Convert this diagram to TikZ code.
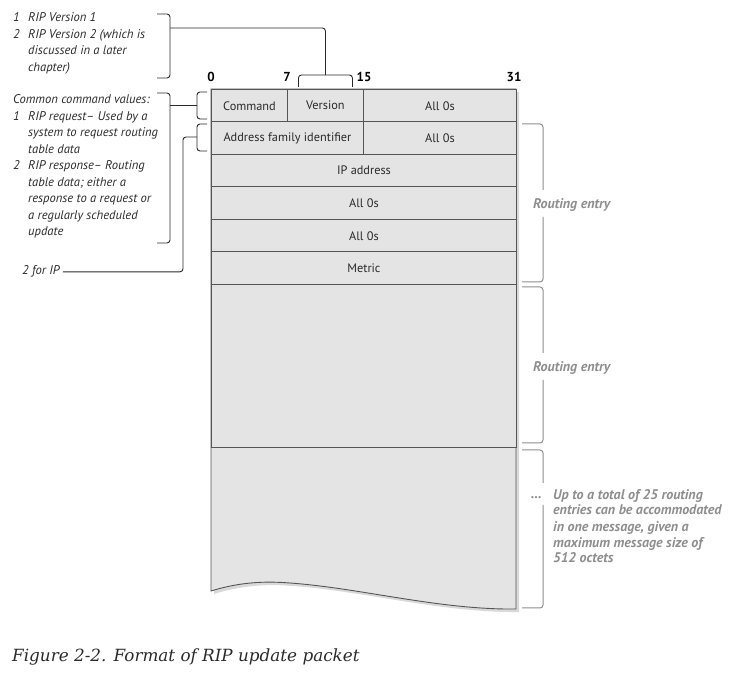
\documentclass[tikz,border=0pt]{standalone}
\usepackage{fontspec}
\setmainfont{PT Sans}
\newfontfamily\capfont{DejaVu Serif}
\usetikzlibrary{positioning,shadows}
\definecolor{boxfill}{HTML}{E4E4E4}
\definecolor{linec}{HTML}{555555}
\definecolor{inkc}{HTML}{2A2A2A}
\definecolor{notec}{HTML}{8E8E8E}
\tikzset{
  field/.style={draw=linec, fill=boxfill, line width=0.9pt, inner sep=0pt,
    minimum height=32.5pt, anchor=north west,
    font=\fontsize{12.3}{14}\selectfont, text=inkc},
  bitno/.style={font=\bfseries\fontsize{13}{15}\selectfont, text=black},
  lnote/.style={anchor=base west, align=left, inner sep=0pt,
    font=\itshape\fontsize{12.6}{16.5}\selectfont, text=inkc},
  rnote/.style={anchor=base west, align=left, inner sep=0pt,
    font=\bfseries\itshape\fontsize{14}{16}\selectfont, text=notec},
  brk/.style={draw=inkc, line width=0.9pt, rounded corners=3pt},
  rbrk/.style={draw=notec, line width=1pt, rounded corners=3pt},
}
\newcommand{\itm}[1]{\makebox[15pt][l]{#1}}
\newcommand{\cont}{\hspace*{15pt}}
\begin{document}
\begin{tikzpicture}[x=1pt,y=-1pt]
  \useasboundingbox (0,0) rectangle (732,676);
  % packet outline, torn at the bottom
  \draw[linec, line width=0.9pt, fill=boxfill,
    drop shadow={shadow xshift=3pt,shadow yshift=-3pt,opacity=.3}]
    (211,89) -- (516,89) -- (516,609)
    .. controls (440,610) and (360,588) .. (290,583)
    .. controls (265,581) and (240,582) .. (211,591) -- cycle;
  % header
  \node[field, minimum width=76pt] (cmd) at (211,89) {Command};
  \node[field, minimum width=76pt] (ver) at (287,89) {Version};
  \node[field, minimum width=153pt] (zero1) at (363,89) {All 0s};
  \node[field, minimum width=152pt] (afi) at (211,121.5) {Address family identifier};
  \node[field, minimum width=153pt] (zero2) at (363,121.5) {All 0s};
  % first routing entry
  \node[field, minimum width=305pt] (ipaddr) at (211,154) {IP address};
  \node[field, minimum width=305pt] (zero3) at (211,186.5) {All 0s};
  \node[field, minimum width=305pt] (zero4) at (211,219) {All 0s};
  \node[field, minimum width=305pt] (metric) at (211,251.5) {Metric};
  \node[field, minimum width=305pt, minimum height=163pt] (entry2) at (211,284) {};
  % bit numbers
  \node[bitno] (b0) at (211,77) {0};
  \node[bitno] (b7) at (287,77) {7};
  \node[bitno] (b15) at (364,77) {15};
  \node[bitno] (b31) at (514,77) {31};

  % notes on the left (base = last line)
  \node[lnote] (vnote) at (13,71.5) {\itm{1}RIP Version 1\\
    \itm{2}RIP Version 2 (which is\\ \cont discussed in a later\\ \cont chapter)};
  \node[lnote] (cnote) at (13,236) {Common command values:\\
    \itm{1}RIP request-- Used by a\\ \cont system to request routing\\ \cont table data\\
    \itm{2}RIP response-- Routing\\ \cont table data; either a\\ \cont response to a request or\\
    \cont a regularly scheduled\\ \cont update};
  \node[lnote] (ipnote) at (22,275) {2 for IP};

  \coordinate (vtop) at ([yshift=14pt]ver.north);
  \coordinate (k1) at (170,28);
  \coordinate (k2) at (170,105);
  \coordinate (cmdb) at (197,105);
  \coordinate (afib) at (197,137);
  \coordinate (ipk) at (183,272);

  \draw[brk] (157,14) -- (170,14) -- (170,78) -- (157,78);
  \draw[brk] ([xshift=-27pt,yshift=2pt]ver.north) -- ++(0,-12) -- ++(54,0) -- ++(0,12);
  \draw[brk] (k1) -| (vtop);
  \draw[brk] (157,93) -- (170,93) -- (170,243) -- (157,243);
  \draw[brk] (207,92) -- (197,92) -- (197,119) -- (207,119);
  \draw[brk] (k2) -- (cmdb);
  \draw[brk] (207,124) -- (197,124) -- (197,151) -- (207,151);
  \draw[brk] (afib) -| (ipk |- ipnote.east) -- ([xshift=3pt]ipnote.east);

  % notes on the right
  \node[rnote] (re1) at (533,209) {Routing entry};
  \draw[rbrk] (522,124) -- (543,124) -- (543,190);
  \draw[rbrk] (543,217) -- (543,282) -- (522,282);
  \node[rnote] (re2) at (533,372) {Routing entry};
  \draw[rbrk] (522,287) -- (543,287) -- (543,353);
  \draw[rbrk] (543,380) -- (543,443) -- (522,443);
  \node[rnote] (dots) at (531,499) {\dots};
  \node[rnote] (rest) at (553,563) {Up to a total of 25 routing\\
    entries can be accommodated\\ in one message, given a\\
    maximum message size of\\ 512 octets};
  \draw[rbrk] (522,450) -- (543,450) -- (543,483);
  \draw[rbrk] (543,505) -- (543,608) -- (522,608);

  % caption
  \node[anchor=base west, inner sep=0pt, text=inkc,
    font=\capfont\itshape\fontsize{16.8}{18}\selectfont] (cap) at (12,661)
    {Figure 2-2. Format of RIP update packet};
\end{tikzpicture}
\end{document}
